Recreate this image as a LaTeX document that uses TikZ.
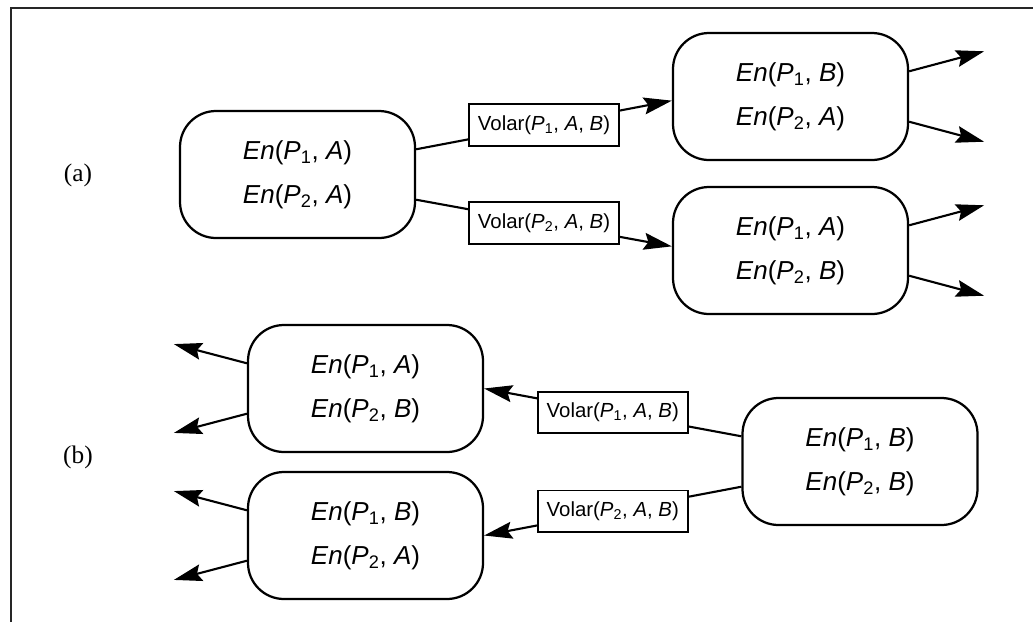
\documentclass[tikz,border=0pt]{standalone}
\usepackage{fontspec}
\setmainfont{Liberation Sans}
\newfontfamily\serifab{Liberation Serif}
\usetikzlibrary{arrows.meta}

\begin{document}
\begin{tikzpicture}[
    state/.style={draw, line width=1.6pt, rounded corners=0.9cm, minimum width=5.875cm, minimum height=3.175cm, align=center, font=\fontsize{18.5}{31}\selectfont},
    action/.style={draw, fill=white, line width=1.4pt, sharp corners, minimum height=1.03cm, inner xsep=0.22cm, font=\fontsize{14.5}{16}\selectfont},
    link/.style={line width=1.5pt},
    >={Stealth[length=20pt, width=12pt, inset=3pt]}
]
    \useasboundingbox (0,0) rectangle (25.825,-15.55);

    % 边框
    \draw[line width=1pt, black!85] (0.275,-15.55) -- (0.275,-0.2) -- (25.825,-0.2);

    % (a) 前向
    \node[font=\serifab\fontsize{18}{20}\selectfont] (la) at (1.95,-4.375) {(a)};
    \node[state] (A0) at (7.4375,-4.3625) {\textit{En}(\textit{P}\textsubscript{1}, \textit{A})\\\textit{En}(\textit{P}\textsubscript{2}, \textit{A})};
    \node[state] (A1) at (19.7625,-2.4125) {\textit{En}(\textit{P}\textsubscript{1}, \textit{B})\\\textit{En}(\textit{P}\textsubscript{2}, \textit{A})};
    \node[state] (A2) at (19.7625,-6.2625) {\textit{En}(\textit{P}\textsubscript{1}, \textit{A})\\\textit{En}(\textit{P}\textsubscript{2}, \textit{B})};

    \draw[link,->] (A0.12) -- node[action] (fa1) {Volar(\textit{P}\textsubscript{1}, \textit{A}, \textit{B})} (A1.182);
    \draw[link,->] (A0.-12) -- node[action] (fa2) {Volar(\textit{P}\textsubscript{2}, \textit{A}, \textit{B})} (A2.178);

    % 后继分支
    \coordinate (A1u) at ([shift={(1.875,0.5)}]A1.12);
    \coordinate (A1d) at ([shift={(1.875,-0.5)}]A1.-12);
    \coordinate (A2u) at ([shift={(1.875,0.5)}]A2.12);
    \coordinate (A2d) at ([shift={(1.875,-0.5)}]A2.-12);
    \draw[link,->] (A1.12) -- (A1u);
    \draw[link,->] (A1.-12) -- (A1d);
    \draw[link,->] (A2.12) -- (A2u);
    \draw[link,->] (A2.-12) -- (A2d);

    % (b) 后向
    \node[font=\serifab\fontsize{18}{20}\selectfont] (lb) at (1.95,-11.425) {(b)};
    \node[state] (B0) at (21.5,-11.5375) {\textit{En}(\textit{P}\textsubscript{1}, \textit{B})\\\textit{En}(\textit{P}\textsubscript{2}, \textit{B})};
    \node[state] (B1) at (9.1375,-9.7125) {\textit{En}(\textit{P}\textsubscript{1}, \textit{A})\\\textit{En}(\textit{P}\textsubscript{2}, \textit{B})};
    \node[state] (B2) at (9.1375,-13.3875) {\textit{En}(\textit{P}\textsubscript{1}, \textit{B})\\\textit{En}(\textit{P}\textsubscript{2}, \textit{A})};

    \draw[link,->] (B0.168) -- node[action] (rb1) {Volar(\textit{P}\textsubscript{1}, \textit{A}, \textit{B})} (B1.east);
    \draw[link,->] (B0.192) -- node[action] (rb2) {Volar(\textit{P}\textsubscript{2}, \textit{A}, \textit{B})} (B2.east);

    % 前驱分支
    \coordinate (B1u) at ([shift={(-1.825,0.48)}]B1.168);
    \coordinate (B1d) at ([shift={(-1.825,-0.48)}]B1.192);
    \coordinate (B2u) at ([shift={(-1.825,0.48)}]B2.168);
    \coordinate (B2d) at ([shift={(-1.825,-0.48)}]B2.192);
    \draw[link,->] (B1.168) -- (B1u);
    \draw[link,->] (B1.192) -- (B1d);
    \draw[link,->] (B2.168) -- (B2u);
    \draw[link,->] (B2.192) -- (B2d);
\end{tikzpicture}
\end{document}
